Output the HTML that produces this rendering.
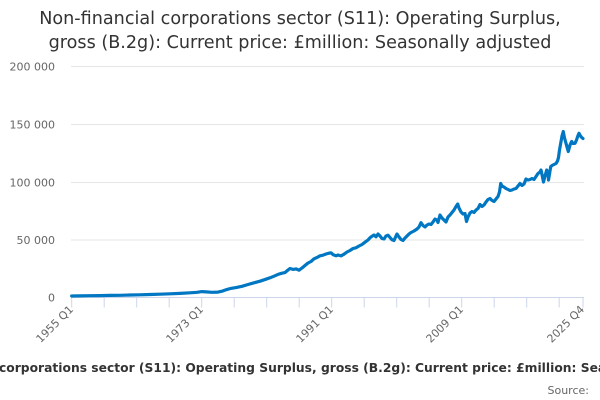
<!DOCTYPE html>
<html>
<head>
<meta charset="utf-8">
<style>
  html, body { margin: 0; padding: 0; background: #ffffff; }
  body { width: 600px; height: 400px; overflow: hidden; }
  svg { display: block; font-family: "DejaVu Sans", "Liberation Sans", sans-serif; }
</style>
</head>
<body>
<svg width="600" height="400" viewBox="0 0 600 400" xmlns="http://www.w3.org/2000/svg">
  <rect x="0" y="0" width="600" height="400" fill="#ffffff"/>

  <!-- Title -->
  <text x="300" y="24" text-anchor="middle" font-size="17.6" fill="#333333">Non-financial corporations sector (S11): Operating Surplus,</text>
  <text x="300" y="48" text-anchor="middle" font-size="17.6" fill="#333333">gross (B.2g): Current price: £million: Seasonally adjusted</text>

  <!-- Gridlines -->
  <g stroke="#e6e6e6" stroke-width="1">
    <line x1="71" y1="66.5" x2="584" y2="66.5"/>
    <line x1="71" y1="124.5" x2="584" y2="124.5"/>
    <line x1="71" y1="182.5" x2="584" y2="182.5"/>
    <line x1="71" y1="240" x2="584" y2="240"/>
  </g>

  <!-- Y labels -->
  <g font-size="11" fill="#666666" text-anchor="end">
    <text x="55" y="70.5">200 000</text>
    <text x="55" y="128.5">150 000</text>
    <text x="55" y="186.5">100 000</text>
    <text x="55" y="244">50 000</text>
    <text x="55" y="301.5">0</text>
  </g>

  <!-- X axis line and ticks -->
  <g stroke="#ccd6eb" stroke-width="1">
    <line x1="71" y1="297.5" x2="584" y2="297.5"/>
    <line x1="71.7" y1="297.5" x2="71.7" y2="307.5"/>
    <line x1="104.2" y1="297.5" x2="104.2" y2="307.5"/>
    <line x1="136.7" y1="297.5" x2="136.7" y2="307.5"/>
    <line x1="169.2" y1="297.5" x2="169.2" y2="307.5"/>
    <line x1="201.7" y1="297.5" x2="201.7" y2="307.5"/>
    <line x1="234.2" y1="297.5" x2="234.2" y2="307.5"/>
    <line x1="266.7" y1="297.5" x2="266.7" y2="307.5"/>
    <line x1="299.2" y1="297.5" x2="299.2" y2="307.5"/>
    <line x1="331.7" y1="297.5" x2="331.7" y2="307.5"/>
    <line x1="364.2" y1="297.5" x2="364.2" y2="307.5"/>
    <line x1="396.7" y1="297.5" x2="396.7" y2="307.5"/>
    <line x1="429.2" y1="297.5" x2="429.2" y2="307.5"/>
    <line x1="461.7" y1="297.5" x2="461.7" y2="307.5"/>
    <line x1="494.2" y1="297.5" x2="494.2" y2="307.5"/>
    <line x1="526.7" y1="297.5" x2="526.7" y2="307.5"/>
    <line x1="559.2" y1="297.5" x2="559.2" y2="307.5"/>
    <line x1="583" y1="297.5" x2="583" y2="307.5"/>
  </g>

  <!-- X labels -->
  <g font-size="11" fill="#666666" text-anchor="end">
    <text transform="translate(74,310) rotate(-45)">1955 Q1</text>
    <text transform="translate(204,310) rotate(-45)">1973 Q1</text>
    <text transform="translate(334,310) rotate(-45)">1991 Q1</text>
    <text transform="translate(464,310) rotate(-45)">2009 Q1</text>
    <text transform="translate(585,310) rotate(-45)">2025 Q4</text>
  </g>

  <!-- Series -->
  <polyline fill="none" stroke="#0077c2" stroke-width="3.2" stroke-linejoin="round" stroke-linecap="round"
    points="71.7,296.0 80,295.9 90,295.7 100,295.6 110,295.4 120,295.3 130,295.0 140,294.8 150,294.5 160,294.2 170,293.8 180,293.4 190,292.8 197,292.3 202,291.6 206,291.9 212,292.3 218,292.1 222,291.2 226,289.8 230,288.6 236,287.6 242,286.3 248,284.5 254,282.8 260,281.2 266,279.2 270,277.8 274,276.2 278,274.4 282,273.2 285,272.6 288,270.0 290,268.5 293,269.4 296,268.9 299,270.2 302,268.0 305,265.5 308,263.0 311,261.5 314,258.8 317,257.5 320,255.8 323,255.2 326,254.0 329,253.2 331,252.8 333,254.6 336,255.8 338,255.0 341,255.9 344,254.2 347,252.0 350,250.5 353,248.5 356,247.8 359,246.0 362,244.5 365,242.2 368,240.0 370,237.8 372,236.2 374,235.0 376,236.8 378,234.0 380,236.0 382,238.5 384,239.0 386,236.0 388,235.2 390,237.5 392,239.8 394,240.5 396,236.0 397,234.0 399,237.0 401,239.5 403,240.5 405,238.0 407,236.0 409,234.0 411,232.5 414,231.0 417,229.0 419,227.0 421,222.7 423,225.5 425,227.0 427,225.0 429,224.0 431,224.5 433,222.0 435,219.0 437,220.0 438,222.5 440,215.0 442,218.0 444,220.0 446,222.0 448,217.0 450,215.0 452,212.5 454,210.0 456,206.5 457.7,204.0 459,208.0 461,212.0 463,214.0 465,213.5 466.5,221.5 468,217.0 470,213.0 472,211.5 474,212.5 476,210.0 478,208.5 480,204.5 482,206.5 484,205.0 486,202.0 488,199.5 490,198.5 492,200.5 494,201.5 496,199.0 498,196.5 499.5,192.0 500.7,183.5 502,186.0 504,187.0 506,188.5 508,189.5 510,190.5 512,190.0 514,189.0 516,188.5 518,186.0 520,183.5 522,185.5 524,184.0 526,179.0 528,180.0 530,179.5 532,178.5 534,179.5 536,176.5 538,173.5 540,172.0 541,170.0 542.5,177.0 543.5,182.0 545,176.0 546.7,170.0 548,174.0 548.5,180.0 549.5,174.0 550.7,166.7 552,165.5 554,164.5 556,163.5 557.5,161.0 558.5,157.5 559.5,150.0 560.7,143.3 562,136.0 563.3,131.5 564.5,138.0 566,143.3 567,147.0 568.3,151.5 570,145.0 571.7,141.5 573,143.5 575,143.3 576.5,140.0 578,135.5 579,133.3 580.5,136.0 581.7,137.5 583,138.5"/>

  <!-- Legend (overflowing text) -->
  <text x="-1" y="372" text-anchor="end" font-size="12.3" font-weight="bold" fill="#333333">Non-financial </text>
  <text x="-1" y="372" text-anchor="start" font-size="12.3" font-weight="bold" fill="#333333">corporations sector (S11): Operating Surplus, gross (B.2g): Current price: £million: Seasonally adjusted</text>

  <!-- Credits -->
  <text x="589" y="394" text-anchor="end" font-size="11" fill="#666666">Source:</text>
</svg>
</body>
</html>
